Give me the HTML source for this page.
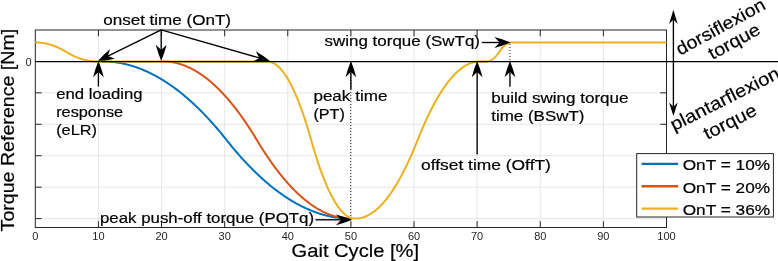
<!DOCTYPE html>
<html><head><meta charset="utf-8"><title>Torque Reference</title>
<style>
html,body{margin:0;padding:0;background:#fff;}
body{width:778px;height:261px;overflow:hidden;}
svg{display:block;font-family:"Liberation Sans",sans-serif;will-change:transform;}
</style></head><body>
<svg width="778" height="261" viewBox="0 0 778 261">
<rect width="778" height="261" fill="#fff"/>
<g stroke="#e3e3e3" stroke-width="0.9" fill="none"><line x1="98.42" y1="30.00" x2="98.42" y2="227.50"/><line x1="161.54" y1="30.00" x2="161.54" y2="227.50"/><line x1="224.66" y1="30.00" x2="224.66" y2="227.50"/><line x1="287.78" y1="30.00" x2="287.78" y2="227.50"/><line x1="350.90" y1="30.00" x2="350.90" y2="227.50"/><line x1="414.02" y1="30.00" x2="414.02" y2="227.50"/><line x1="477.14" y1="30.00" x2="477.14" y2="227.50"/><line x1="540.26" y1="30.00" x2="540.26" y2="227.50"/><line x1="603.38" y1="30.00" x2="603.38" y2="227.50"/><line x1="35.30" y1="218.60" x2="666.50" y2="218.60"/><line x1="35.30" y1="187.16" x2="666.50" y2="187.16"/><line x1="35.30" y1="155.72" x2="666.50" y2="155.72"/><line x1="35.30" y1="124.28" x2="666.50" y2="124.28"/><line x1="35.30" y1="92.84" x2="666.50" y2="92.84"/><line x1="35.30" y1="61.40" x2="666.50" y2="61.40"/></g>
<g stroke="#262626" stroke-width="1" fill="none">
<rect x="35.30" y="30.00" width="631.20" height="197.50"/>
<line x1="98.42" y1="227.50" x2="98.42" y2="221.20"/><line x1="98.42" y1="30.00" x2="98.42" y2="36.30"/><line x1="161.54" y1="227.50" x2="161.54" y2="221.20"/><line x1="161.54" y1="30.00" x2="161.54" y2="36.30"/><line x1="224.66" y1="227.50" x2="224.66" y2="221.20"/><line x1="224.66" y1="30.00" x2="224.66" y2="36.30"/><line x1="287.78" y1="227.50" x2="287.78" y2="221.20"/><line x1="287.78" y1="30.00" x2="287.78" y2="36.30"/><line x1="350.90" y1="227.50" x2="350.90" y2="221.20"/><line x1="350.90" y1="30.00" x2="350.90" y2="36.30"/><line x1="414.02" y1="227.50" x2="414.02" y2="221.20"/><line x1="414.02" y1="30.00" x2="414.02" y2="36.30"/><line x1="477.14" y1="227.50" x2="477.14" y2="221.20"/><line x1="477.14" y1="30.00" x2="477.14" y2="36.30"/><line x1="540.26" y1="227.50" x2="540.26" y2="221.20"/><line x1="540.26" y1="30.00" x2="540.26" y2="36.30"/><line x1="603.38" y1="227.50" x2="603.38" y2="221.20"/><line x1="603.38" y1="30.00" x2="603.38" y2="36.30"/><line x1="35.30" y1="218.60" x2="41.60" y2="218.60"/><line x1="35.30" y1="187.16" x2="41.60" y2="187.16"/><line x1="666.50" y1="187.16" x2="660.20" y2="187.16"/><line x1="35.30" y1="155.72" x2="41.60" y2="155.72"/><line x1="666.50" y1="155.72" x2="660.20" y2="155.72"/><line x1="35.30" y1="124.28" x2="41.60" y2="124.28"/><line x1="666.50" y1="124.28" x2="660.20" y2="124.28"/><line x1="35.30" y1="92.84" x2="41.60" y2="92.84"/><line x1="666.50" y1="92.84" x2="660.20" y2="92.84"/></g>
<g fill="none" stroke-width="2.0" stroke-linejoin="round">
<path d="M102.84,61.40 L103.47,61.41 L104.10,61.42 L104.73,61.43 L105.36,61.45 L105.99,61.47 L106.63,61.50 L107.26,61.53 L107.89,61.56 L108.52,61.60 L109.15,61.65 L109.78,61.69 L110.41,61.74 L111.04,61.80 L111.68,61.86 L112.31,61.92 L112.94,61.99 L113.57,62.06 L114.20,62.13 L114.83,62.21 L115.46,62.29 L116.09,62.38 L116.72,62.47 L117.36,62.57 L117.99,62.67 L118.62,62.77 L119.25,62.88 L119.88,62.99 L120.51,63.10 L121.14,63.22 L121.77,63.35 L122.41,63.47 L123.04,63.61 L123.67,63.74 L124.30,63.88 L124.93,64.02 L125.56,64.17 L126.19,64.32 L126.82,64.48 L127.46,64.64 L128.09,64.80 L128.72,64.97 L129.35,65.14 L129.98,65.32 L130.61,65.50 L131.24,65.69 L131.87,65.87 L132.50,66.07 L133.14,66.26 L133.77,66.46 L134.40,66.67 L135.03,66.88 L135.66,67.09 L136.29,67.31 L136.92,67.53 L137.55,67.75 L138.19,67.98 L138.82,68.21 L139.45,68.45 L140.08,68.69 L140.71,68.94 L141.34,69.19 L141.97,69.44 L142.60,69.70 L143.24,69.96 L143.87,70.22 L144.50,70.49 L145.13,70.77 L145.76,71.04 L146.39,71.32 L147.02,71.61 L147.65,71.90 L148.28,72.19 L148.92,72.49 L149.55,72.79 L150.18,73.10 L150.81,73.41 L151.44,73.72 L152.07,74.04 L152.70,74.36 L153.33,74.69 L153.97,75.02 L154.60,75.35 L155.23,75.69 L155.86,76.03 L156.49,76.38 L157.12,76.73 L157.75,77.08 L158.38,77.44 L159.02,77.80 L159.65,78.17 L160.28,78.54 L160.91,78.92 L161.54,79.30 L162.17,79.68 L162.80,80.07 L163.43,80.46 L164.06,80.85 L164.70,81.25 L165.33,81.65 L165.96,82.06 L166.59,82.47 L167.22,82.89 L167.85,83.31 L168.48,83.73 L169.11,84.16 L169.75,84.59 L170.38,85.02 L171.01,85.46 L171.64,85.91 L172.27,86.35 L172.90,86.81 L173.53,87.26 L174.16,87.72 L174.80,88.18 L175.43,88.65 L176.06,89.12 L176.69,89.60 L177.32,90.08 L177.95,90.56 L178.58,91.05 L179.21,91.54 L179.84,92.04 L180.48,92.54 L181.11,93.05 L181.74,93.55 L182.37,94.07 L183.00,94.58 L183.63,95.10 L184.26,95.63 L184.89,96.16 L185.53,96.69 L186.16,97.23 L186.79,97.77 L187.42,98.31 L188.05,98.86 L188.68,99.41 L189.31,99.97 L189.94,100.53 L190.58,101.10 L191.21,101.67 L191.84,102.24 L192.47,102.82 L193.10,103.40 L193.73,103.98 L194.36,104.57 L194.99,105.16 L195.62,105.76 L196.26,106.36 L196.89,106.97 L197.52,107.58 L198.15,108.19 L198.78,108.81 L199.41,109.43 L200.04,110.06 L200.67,110.69 L201.31,111.32 L201.94,111.96 L202.57,112.60 L203.20,113.25 L203.83,113.90 L204.46,114.55 L205.09,115.21 L205.72,115.87 L206.36,116.54 L206.99,117.21 L207.62,117.88 L208.25,118.56 L208.88,119.24 L209.51,119.93 L210.14,120.62 L210.77,121.32 L211.40,122.02 L212.04,122.72 L212.67,123.42 L213.30,124.14 L213.93,124.85 L214.56,125.57 L215.19,126.29 L215.82,127.02 L216.45,127.75 L217.09,128.49 L217.72,129.23 L218.35,129.97 L218.98,130.72 L219.61,131.47 L220.24,132.22 L220.87,132.98 L221.50,133.75 L222.14,134.51 L222.77,135.29 L223.40,136.06 L224.03,136.84 L224.66,137.62 L225.29,138.41 L225.92,139.20 L226.55,140.00 L227.18,140.80 L227.82,141.59 L228.45,142.38 L229.08,143.16 L229.71,143.94 L230.34,144.71 L230.97,145.49 L231.60,146.25 L232.23,147.02 L232.87,147.78 L233.50,148.53 L234.13,149.28 L234.76,150.03 L235.39,150.77 L236.02,151.51 L236.65,152.25 L237.28,152.98 L237.92,153.71 L238.55,154.43 L239.18,155.15 L239.81,155.86 L240.44,156.58 L241.07,157.28 L241.70,157.98 L242.33,158.68 L242.96,159.38 L243.60,160.07 L244.23,160.76 L244.86,161.44 L245.49,162.12 L246.12,162.79 L246.75,163.46 L247.38,164.13 L248.01,164.79 L248.65,165.45 L249.28,166.10 L249.91,166.75 L250.54,167.40 L251.17,168.04 L251.80,168.68 L252.43,169.31 L253.06,169.94 L253.70,170.57 L254.33,171.19 L254.96,171.81 L255.59,172.42 L256.22,173.03 L256.85,173.64 L257.48,174.24 L258.11,174.84 L258.74,175.43 L259.38,176.02 L260.01,176.60 L260.64,177.18 L261.27,177.76 L261.90,178.33 L262.53,178.90 L263.16,179.47 L263.79,180.03 L264.43,180.59 L265.06,181.14 L265.69,181.69 L266.32,182.23 L266.95,182.77 L267.58,183.31 L268.21,183.84 L268.84,184.37 L269.48,184.90 L270.11,185.42 L270.74,185.93 L271.37,186.45 L272.00,186.95 L272.63,187.46 L273.26,187.96 L273.89,188.46 L274.52,188.95 L275.16,189.44 L275.79,189.92 L276.42,190.40 L277.05,190.88 L277.68,191.35 L278.31,191.82 L278.94,192.28 L279.57,192.74 L280.21,193.19 L280.84,193.65 L281.47,194.09 L282.10,194.54 L282.73,194.98 L283.36,195.41 L283.99,195.84 L284.62,196.27 L285.26,196.69 L285.89,197.11 L286.52,197.53 L287.15,197.94 L287.78,198.35 L288.41,198.75 L289.04,199.15 L289.67,199.54 L290.30,199.93 L290.94,200.32 L291.57,200.70 L292.20,201.08 L292.83,201.46 L293.46,201.83 L294.09,202.20 L294.72,202.56 L295.35,202.92 L295.99,203.27 L296.62,203.62 L297.25,203.97 L297.88,204.31 L298.51,204.65 L299.14,204.98 L299.77,205.31 L300.40,205.64 L301.04,205.96 L301.67,206.28 L302.30,206.59 L302.93,206.90 L303.56,207.21 L304.19,207.51 L304.82,207.81 L305.45,208.10 L306.08,208.39 L306.72,208.68 L307.35,208.96 L307.98,209.23 L308.61,209.51 L309.24,209.78 L309.87,210.04 L310.50,210.30 L311.13,210.56 L311.77,210.81 L312.40,211.06 L313.03,211.31 L313.66,211.55 L314.29,211.79 L314.92,212.02 L315.55,212.25 L316.18,212.47 L316.82,212.69 L317.45,212.91 L318.08,213.12 L318.71,213.33 L319.34,213.54 L319.97,213.74 L320.60,213.93 L321.23,214.13 L321.86,214.31 L322.50,214.50 L323.13,214.68 L323.76,214.86 L324.39,215.03 L325.02,215.20 L325.65,215.36 L326.28,215.52 L326.91,215.68 L327.55,215.83 L328.18,215.98 L328.81,216.12 L329.44,216.26 L330.07,216.39 L330.70,216.53 L331.33,216.65 L331.96,216.78 L332.60,216.90 L333.23,217.01 L333.86,217.12 L334.49,217.23 L335.12,217.33 L335.75,217.43 L336.38,217.53 L337.01,217.62 L337.64,217.71 L338.28,217.79 L338.91,217.87 L339.54,217.94 L340.17,218.01 L340.80,218.08 L341.43,218.14 L342.06,218.20 L342.69,218.26 L343.33,218.31 L343.96,218.35 L344.59,218.40 L345.22,218.44 L345.85,218.47 L346.48,218.50 L347.11,218.53 L347.74,218.55 L348.38,218.57 L349.01,218.58 L349.64,218.59 L350.27,218.60 L350.90,218.60" stroke="#0072bd"/>
<path d="M162.96,61.40 L163.43,61.40 L163.91,61.41 L164.38,61.42 L164.85,61.44 L165.33,61.46 L165.80,61.48 L166.27,61.51 L166.75,61.54 L167.22,61.57 L167.69,61.61 L168.17,61.66 L168.64,61.70 L169.11,61.75 L169.59,61.81 L170.06,61.87 L170.53,61.93 L171.01,62.00 L171.48,62.07 L171.95,62.14 L172.43,62.22 L172.90,62.31 L173.38,62.39 L173.85,62.48 L174.32,62.58 L174.80,62.68 L175.27,62.78 L175.74,62.89 L176.22,63.00 L176.69,63.11 L177.16,63.23 L177.64,63.36 L178.11,63.48 L178.58,63.61 L179.06,63.75 L179.53,63.89 L180.00,64.03 L180.48,64.18 L180.95,64.33 L181.42,64.48 L181.90,64.64 L182.37,64.80 L182.84,64.97 L183.32,65.14 L183.79,65.31 L184.26,65.49 L184.74,65.68 L185.21,65.86 L185.68,66.05 L186.16,66.25 L186.63,66.45 L187.10,66.65 L187.58,66.85 L188.05,67.06 L188.52,67.28 L189.00,67.50 L189.47,67.72 L189.94,67.95 L190.42,68.18 L190.89,68.41 L191.36,68.65 L191.84,68.89 L192.31,69.14 L192.78,69.39 L193.26,69.64 L193.73,69.90 L194.20,70.16 L194.68,70.43 L195.15,70.70 L195.62,70.97 L196.10,71.25 L196.57,71.53 L197.05,71.82 L197.52,72.11 L197.99,72.40 L198.47,72.70 L198.94,73.00 L199.41,73.31 L199.89,73.62 L200.36,73.93 L200.83,74.25 L201.31,74.57 L201.78,74.90 L202.25,75.23 L202.73,75.56 L203.20,75.90 L203.67,76.24 L204.15,76.59 L204.62,76.94 L205.09,77.29 L205.57,77.65 L206.04,78.01 L206.51,78.38 L206.99,78.75 L207.46,79.12 L207.93,79.50 L208.41,79.88 L208.88,80.27 L209.35,80.66 L209.83,81.05 L210.30,81.45 L210.77,81.85 L211.25,82.25 L211.72,82.66 L212.19,83.08 L212.67,83.50 L213.14,83.92 L213.61,84.34 L214.09,84.77 L214.56,85.21 L215.03,85.64 L215.51,86.08 L215.98,86.53 L216.45,86.98 L216.93,87.43 L217.40,87.89 L217.87,88.35 L218.35,88.82 L218.82,89.29 L219.29,89.76 L219.77,90.24 L220.24,90.72 L220.72,91.20 L221.19,91.69 L221.66,92.19 L222.14,92.68 L222.61,93.18 L223.08,93.69 L223.56,94.20 L224.03,94.71 L224.50,95.23 L224.98,95.75 L225.45,96.27 L225.92,96.80 L226.40,97.34 L226.87,97.87 L227.34,98.41 L227.82,98.96 L228.29,99.51 L228.76,100.06 L229.24,100.62 L229.71,101.18 L230.18,101.74 L230.66,102.31 L231.13,102.89 L231.60,103.46 L232.08,104.04 L232.55,104.63 L233.02,105.22 L233.50,105.81 L233.97,106.41 L234.44,107.01 L234.92,107.61 L235.39,108.22 L235.86,108.83 L236.34,109.45 L236.81,110.07 L237.28,110.70 L237.76,111.32 L238.23,111.96 L238.70,112.59 L239.18,113.23 L239.65,113.88 L240.12,114.53 L240.60,115.18 L241.07,115.84 L241.54,116.50 L242.02,117.16 L242.49,117.83 L242.96,118.50 L243.44,119.18 L243.91,119.86 L244.38,120.54 L244.86,121.23 L245.33,121.92 L245.81,122.62 L246.28,123.32 L246.75,124.03 L247.23,124.73 L247.70,125.45 L248.17,126.16 L248.65,126.88 L249.12,127.61 L249.59,128.34 L250.07,129.07 L250.54,129.80 L251.01,130.54 L251.49,131.29 L251.96,132.04 L252.43,132.79 L252.91,133.54 L253.38,134.30 L253.85,135.07 L254.33,135.84 L254.80,136.61 L255.27,137.38 L255.75,138.16 L256.22,138.95 L256.69,139.74 L257.17,140.53 L257.64,141.31 L258.11,142.10 L258.59,142.87 L259.06,143.65 L259.53,144.42 L260.01,145.19 L260.48,145.95 L260.95,146.71 L261.43,147.46 L261.90,148.21 L262.37,148.96 L262.85,149.70 L263.32,150.44 L263.79,151.18 L264.27,151.91 L264.74,152.63 L265.21,153.36 L265.69,154.08 L266.16,154.79 L266.63,155.50 L267.11,156.21 L267.58,156.91 L268.06,157.61 L268.53,158.31 L269.00,159.00 L269.48,159.68 L269.95,160.37 L270.42,161.05 L270.90,161.72 L271.37,162.39 L271.84,163.06 L272.32,163.72 L272.79,164.38 L273.26,165.04 L273.74,165.69 L274.21,166.34 L274.68,166.98 L275.16,167.62 L275.63,168.25 L276.10,168.89 L276.58,169.51 L277.05,170.14 L277.52,170.76 L278.00,171.37 L278.47,171.98 L278.94,172.59 L279.42,173.19 L279.89,173.79 L280.36,174.39 L280.84,174.98 L281.31,175.57 L281.78,176.15 L282.26,176.73 L282.73,177.30 L283.20,177.88 L283.68,178.44 L284.15,179.01 L284.62,179.57 L285.10,180.12 L285.57,180.67 L286.04,181.22 L286.52,181.77 L286.99,182.31 L287.46,182.84 L287.94,183.37 L288.41,183.90 L288.88,184.42 L289.36,184.94 L289.83,185.46 L290.30,185.97 L290.78,186.48 L291.25,186.98 L291.73,187.48 L292.20,187.98 L292.67,188.47 L293.15,188.96 L293.62,189.44 L294.09,189.92 L294.57,190.40 L295.04,190.87 L295.51,191.34 L295.99,191.80 L296.46,192.26 L296.93,192.72 L297.41,193.17 L297.88,193.62 L298.35,194.06 L298.83,194.50 L299.30,194.94 L299.77,195.37 L300.25,195.80 L300.72,196.22 L301.19,196.64 L301.67,197.06 L302.14,197.47 L302.61,197.88 L303.09,198.29 L303.56,198.69 L304.03,199.08 L304.51,199.47 L304.98,199.86 L305.45,200.25 L305.93,200.63 L306.40,201.00 L306.87,201.38 L307.35,201.74 L307.82,202.11 L308.29,202.47 L308.77,202.83 L309.24,203.18 L309.71,203.53 L310.19,203.87 L310.66,204.21 L311.13,204.55 L311.61,204.88 L312.08,205.21 L312.55,205.53 L313.03,205.85 L313.50,206.17 L313.97,206.48 L314.45,206.79 L314.92,207.10 L315.40,207.40 L315.87,207.69 L316.34,207.99 L316.82,208.28 L317.29,208.56 L317.76,208.84 L318.24,209.12 L318.71,209.39 L319.18,209.66 L319.66,209.93 L320.13,210.19 L320.60,210.44 L321.08,210.70 L321.55,210.94 L322.02,211.19 L322.50,211.43 L322.97,211.67 L323.44,211.90 L323.92,212.13 L324.39,212.35 L324.86,212.58 L325.34,212.79 L325.81,213.01 L326.28,213.22 L326.76,213.42 L327.23,213.62 L327.70,213.82 L328.18,214.01 L328.65,214.20 L329.12,214.39 L329.60,214.57 L330.07,214.74 L330.54,214.92 L331.02,215.09 L331.49,215.25 L331.96,215.41 L332.44,215.57 L332.91,215.72 L333.38,215.87 L333.86,216.02 L334.33,216.16 L334.80,216.30 L335.28,216.43 L335.75,216.56 L336.22,216.69 L336.70,216.81 L337.17,216.93 L337.64,217.04 L338.12,217.15 L338.59,217.25 L339.06,217.36 L339.54,217.45 L340.01,217.55 L340.49,217.64 L340.96,217.72 L341.43,217.80 L341.91,217.88 L342.38,217.95 L342.85,218.02 L343.33,218.09 L343.80,218.15 L344.27,218.21 L344.75,218.26 L345.22,218.31 L345.69,218.36 L346.17,218.40 L346.64,218.44 L347.11,218.47 L347.59,218.50 L348.06,218.53 L348.53,218.55 L349.01,218.57 L349.48,218.58 L349.95,218.59 L350.43,218.60 L350.90,218.60" stroke="#d95319"/>
<path d="M35.30,42.44 L35.93,42.45 L36.56,42.46 L37.19,42.48 L37.82,42.50 L38.46,42.54 L39.09,42.58 L39.72,42.64 L40.35,42.69 L40.98,42.76 L41.61,42.84 L42.24,42.92 L42.87,43.01 L43.51,43.11 L44.14,43.22 L44.77,43.33 L45.40,43.45 L46.03,43.58 L46.66,43.72 L47.29,43.87 L47.92,44.02 L48.56,44.18 L49.19,44.35 L49.82,44.53 L50.45,44.72 L51.08,44.91 L51.71,45.11 L52.34,45.32 L52.97,45.54 L53.60,45.76 L54.24,45.99 L54.87,46.24 L55.50,46.48 L56.13,46.74 L56.76,47.01 L57.39,47.28 L58.02,47.56 L58.65,47.85 L59.29,48.14 L59.92,48.45 L60.55,48.76 L61.18,49.08 L61.81,49.41 L62.44,49.74 L63.07,50.09 L63.70,50.44 L64.34,50.80 L64.97,51.16 L65.60,51.54 L66.23,51.92 L66.86,52.30 L67.49,52.68 L68.12,53.05 L68.75,53.41 L69.38,53.76 L70.02,54.10 L70.65,54.44 L71.28,54.76 L71.91,55.08 L72.54,55.40 L73.17,55.70 L73.80,56.00 L74.43,56.28 L75.07,56.56 L75.70,56.84 L76.33,57.10 L76.96,57.36 L77.59,57.61 L78.22,57.85 L78.85,58.08 L79.48,58.30 L80.12,58.52 L80.75,58.73 L81.38,58.93 L82.01,59.13 L82.64,59.31 L83.27,59.49 L83.90,59.66 L84.53,59.82 L85.16,59.97 L85.80,60.12 L86.43,60.26 L87.06,60.39 L87.69,60.51 L88.32,60.63 L88.95,60.73 L89.58,60.83 L90.21,60.92 L90.85,61.01 L91.48,61.08 L92.11,61.15 L92.74,61.21 L93.37,61.26 L94.00,61.30 L94.63,61.34 L95.26,61.36 L95.90,61.38 L96.53,61.40 L97.16,61.40 L97.79,61.40 L98.42,61.40 L99.05,61.40 L99.68,61.40 L100.31,61.40 L100.94,61.40 L101.58,61.40 L102.21,61.40 L102.84,61.40 L103.47,61.40 L104.10,61.40 L104.73,61.40 L105.36,61.40 L105.99,61.40 L106.63,61.40 L107.26,61.40 L107.89,61.40 L108.52,61.40 L109.15,61.40 L109.78,61.40 L110.41,61.40 L111.04,61.40 L111.68,61.40 L112.31,61.40 L112.94,61.40 L113.57,61.40 L114.20,61.40 L114.83,61.40 L115.46,61.40 L116.09,61.40 L116.72,61.40 L117.36,61.40 L117.99,61.40 L118.62,61.40 L119.25,61.40 L119.88,61.40 L120.51,61.40 L121.14,61.40 L121.77,61.40 L122.41,61.40 L123.04,61.40 L123.67,61.40 L124.30,61.40 L124.93,61.40 L125.56,61.40 L126.19,61.40 L126.82,61.40 L127.46,61.40 L128.09,61.40 L128.72,61.40 L129.35,61.40 L129.98,61.40 L130.61,61.40 L131.24,61.40 L131.87,61.40 L132.50,61.40 L133.14,61.40 L133.77,61.40 L134.40,61.40 L135.03,61.40 L135.66,61.40 L136.29,61.40 L136.92,61.40 L137.55,61.40 L138.19,61.40 L138.82,61.40 L139.45,61.40 L140.08,61.40 L140.71,61.40 L141.34,61.40 L141.97,61.40 L142.60,61.40 L143.24,61.40 L143.87,61.40 L144.50,61.40 L145.13,61.40 L145.76,61.40 L146.39,61.40 L147.02,61.40 L147.65,61.40 L148.28,61.40 L148.92,61.40 L149.55,61.40 L150.18,61.40 L150.81,61.40 L151.44,61.40 L152.07,61.40 L152.70,61.40 L153.33,61.40 L153.97,61.40 L154.60,61.40 L155.23,61.40 L155.86,61.40 L156.49,61.40 L157.12,61.40 L157.75,61.40 L158.38,61.40 L159.02,61.40 L159.65,61.40 L160.28,61.40 L160.91,61.40 L161.54,61.40 L162.17,61.40 L162.80,61.40 L163.43,61.40 L164.06,61.40 L164.70,61.40 L165.33,61.40 L165.96,61.40 L166.59,61.40 L167.22,61.40 L167.85,61.40 L168.48,61.40 L169.11,61.40 L169.75,61.40 L170.38,61.40 L171.01,61.40 L171.64,61.40 L172.27,61.40 L172.90,61.40 L173.53,61.40 L174.16,61.40 L174.80,61.40 L175.43,61.40 L176.06,61.40 L176.69,61.40 L177.32,61.40 L177.95,61.40 L178.58,61.40 L179.21,61.40 L179.84,61.40 L180.48,61.40 L181.11,61.40 L181.74,61.40 L182.37,61.40 L183.00,61.40 L183.63,61.40 L184.26,61.40 L184.89,61.40 L185.53,61.40 L186.16,61.40 L186.79,61.40 L187.42,61.40 L188.05,61.40 L188.68,61.40 L189.31,61.40 L189.94,61.40 L190.58,61.40 L191.21,61.40 L191.84,61.40 L192.47,61.40 L193.10,61.40 L193.73,61.40 L194.36,61.40 L194.99,61.40 L195.62,61.40 L196.26,61.40 L196.89,61.40 L197.52,61.40 L198.15,61.40 L198.78,61.40 L199.41,61.40 L200.04,61.40 L200.67,61.40 L201.31,61.40 L201.94,61.40 L202.57,61.40 L203.20,61.40 L203.83,61.40 L204.46,61.40 L205.09,61.40 L205.72,61.40 L206.36,61.40 L206.99,61.40 L207.62,61.40 L208.25,61.40 L208.88,61.40 L209.51,61.40 L210.14,61.40 L210.77,61.40 L211.40,61.40 L212.04,61.40 L212.67,61.40 L213.30,61.40 L213.93,61.40 L214.56,61.40 L215.19,61.40 L215.82,61.40 L216.45,61.40 L217.09,61.40 L217.72,61.40 L218.35,61.40 L218.98,61.40 L219.61,61.40 L220.24,61.40 L220.87,61.40 L221.50,61.40 L222.14,61.40 L222.77,61.40 L223.40,61.40 L224.03,61.40 L224.66,61.40 L225.29,61.40 L225.92,61.40 L226.55,61.40 L227.18,61.40 L227.82,61.40 L228.45,61.40 L229.08,61.40 L229.71,61.40 L230.34,61.40 L230.97,61.40 L231.60,61.40 L232.23,61.40 L232.87,61.40 L233.50,61.40 L234.13,61.40 L234.76,61.40 L235.39,61.40 L236.02,61.40 L236.65,61.40 L237.28,61.40 L237.92,61.40 L238.55,61.40 L239.18,61.40 L239.81,61.40 L240.44,61.40 L241.07,61.40 L241.70,61.40 L242.33,61.40 L242.96,61.40 L243.60,61.40 L244.23,61.40 L244.86,61.40 L245.49,61.40 L246.12,61.40 L246.75,61.40 L247.38,61.40 L248.01,61.40 L248.65,61.40 L249.28,61.40 L249.91,61.40 L250.54,61.40 L251.17,61.40 L251.80,61.40 L252.43,61.40 L253.06,61.40 L253.70,61.40 L254.33,61.40 L254.96,61.40 L255.59,61.40 L256.22,61.40 L256.85,61.40 L257.48,61.40 L258.11,61.40 L258.74,61.40 L259.38,61.40 L260.01,61.40 L260.64,61.40 L261.27,61.40 L261.90,61.40 L262.53,61.40 L263.16,61.40 L263.79,61.40 L264.43,61.40 L265.06,61.40 L265.69,61.40 L266.32,61.40 L266.95,61.40 L267.58,61.42 L268.21,61.46 L268.84,61.54 L269.48,61.66 L270.11,61.80 L270.74,61.98 L271.37,62.19 L272.00,62.43 L272.63,62.70 L273.26,63.00 L273.89,63.34 L274.52,63.71 L275.16,64.11 L275.79,64.54 L276.42,65.01 L277.05,65.51 L277.68,66.04 L278.31,66.60 L278.94,67.19 L279.57,67.82 L280.21,68.47 L280.84,69.16 L281.47,69.89 L282.10,70.64 L282.73,71.43 L283.36,72.24 L283.99,73.09 L284.62,73.98 L285.26,74.89 L285.89,75.84 L286.52,76.82 L287.15,77.83 L287.78,78.87 L288.41,79.94 L289.04,81.05 L289.67,82.19 L290.30,83.36 L290.94,84.56 L291.57,85.80 L292.20,87.07 L292.83,88.36 L293.46,89.70 L294.09,91.06 L294.72,92.46 L295.35,93.88 L295.99,95.34 L296.62,96.83 L297.25,98.36 L297.88,99.91 L298.51,101.50 L299.14,103.12 L299.77,104.77 L300.40,106.46 L301.04,108.18 L301.67,109.92 L302.30,111.70 L302.93,113.52 L303.56,115.36 L304.19,117.24 L304.82,119.15 L305.45,121.09 L306.08,123.06 L306.72,125.07 L307.35,127.10 L307.98,129.17 L308.61,131.27 L309.24,133.41 L309.87,135.57 L310.50,137.77 L311.13,140.00 L311.77,142.23 L312.40,144.43 L313.03,146.59 L313.66,148.73 L314.29,150.83 L314.92,152.90 L315.55,154.93 L316.18,156.94 L316.82,158.91 L317.45,160.85 L318.08,162.76 L318.71,164.64 L319.34,166.48 L319.97,168.30 L320.60,170.08 L321.23,171.82 L321.86,173.54 L322.50,175.23 L323.13,176.88 L323.76,178.50 L324.39,180.09 L325.02,181.64 L325.65,183.17 L326.28,184.66 L326.91,186.12 L327.55,187.54 L328.18,188.94 L328.81,190.30 L329.44,191.64 L330.07,192.93 L330.70,194.20 L331.33,195.44 L331.96,196.64 L332.60,197.81 L333.23,198.95 L333.86,200.06 L334.49,201.13 L335.12,202.17 L335.75,203.18 L336.38,204.16 L337.01,205.11 L337.64,206.02 L338.28,206.91 L338.91,207.76 L339.54,208.57 L340.17,209.36 L340.80,210.11 L341.43,210.84 L342.06,211.53 L342.69,212.18 L343.33,212.81 L343.96,213.40 L344.59,213.96 L345.22,214.49 L345.85,214.99 L346.48,215.46 L347.11,215.89 L347.74,216.29 L348.38,216.66 L349.01,217.00 L349.64,217.30 L350.27,217.57 L350.90,217.81 L351.53,218.02 L352.16,218.20 L352.79,218.34 L353.42,218.46 L354.06,218.54 L354.69,218.58 L355.32,218.60 L355.95,218.59 L356.58,218.57 L357.21,218.53 L357.84,218.47 L358.47,218.40 L359.11,218.31 L359.74,218.21 L360.37,218.08 L361.00,217.95 L361.63,217.79 L362.26,217.62 L362.89,217.44 L363.52,217.24 L364.16,217.02 L364.79,216.79 L365.42,216.54 L366.05,216.27 L366.68,215.99 L367.31,215.69 L367.94,215.38 L368.57,215.05 L369.20,214.70 L369.84,214.34 L370.47,213.96 L371.10,213.56 L371.73,213.15 L372.36,212.72 L372.99,212.28 L373.62,211.82 L374.25,211.35 L374.89,210.85 L375.52,210.35 L376.15,209.82 L376.78,209.28 L377.41,208.73 L378.04,208.15 L378.67,207.57 L379.30,206.96 L379.94,206.34 L380.57,205.70 L381.20,205.05 L381.83,204.38 L382.46,203.70 L383.09,203.00 L383.72,202.28 L384.35,201.54 L384.98,200.79 L385.62,200.03 L386.25,199.25 L386.88,198.45 L387.51,197.64 L388.14,196.81 L388.77,195.96 L389.40,195.10 L390.03,194.22 L390.67,193.32 L391.30,192.41 L391.93,191.49 L392.56,190.54 L393.19,189.58 L393.82,188.61 L394.45,187.62 L395.08,186.61 L395.72,185.59 L396.35,184.55 L396.98,183.49 L397.61,182.42 L398.24,181.33 L398.87,180.23 L399.50,179.10 L400.13,177.97 L400.76,176.82 L401.40,175.65 L402.03,174.46 L402.66,173.26 L403.29,172.04 L403.92,170.81 L404.55,169.56 L405.18,168.30 L405.81,167.01 L406.45,165.72 L407.08,164.40 L407.71,163.07 L408.34,161.73 L408.97,160.36 L409.60,158.99 L410.23,157.59 L410.86,156.18 L411.50,154.75 L412.13,153.31 L412.76,151.85 L413.39,150.38 L414.02,148.89 L414.65,147.38 L415.28,145.86 L415.91,144.32 L416.54,142.76 L417.18,141.19 L417.81,139.60 L418.44,138.02 L419.07,136.46 L419.70,134.91 L420.33,133.38 L420.96,131.86 L421.59,130.37 L422.23,128.88 L422.86,127.42 L423.49,125.96 L424.12,124.53 L424.75,123.11 L425.38,121.71 L426.01,120.32 L426.64,118.95 L427.28,117.60 L427.91,116.26 L428.54,114.94 L429.17,113.63 L429.80,112.34 L430.43,111.07 L431.06,109.81 L431.69,108.57 L432.32,107.35 L432.96,106.14 L433.59,104.94 L434.22,103.77 L434.85,102.61 L435.48,101.46 L436.11,100.33 L436.74,99.22 L437.37,98.12 L438.01,97.04 L438.64,95.98 L439.27,94.93 L439.90,93.90 L440.53,92.89 L441.16,91.89 L441.79,90.90 L442.42,89.94 L443.06,88.98 L443.69,88.05 L444.32,87.13 L444.95,86.23 L445.58,85.34 L446.21,84.47 L446.84,83.62 L447.47,82.78 L448.10,81.96 L448.74,81.15 L449.37,80.36 L450.00,79.59 L450.63,78.83 L451.26,78.09 L451.89,77.36 L452.52,76.65 L453.15,75.96 L453.79,75.28 L454.42,74.62 L455.05,73.98 L455.68,73.35 L456.31,72.73 L456.94,72.14 L457.57,71.56 L458.20,70.99 L458.84,70.45 L459.47,69.91 L460.10,69.40 L460.73,68.90 L461.36,68.41 L461.99,67.95 L462.62,67.50 L463.25,67.06 L463.88,66.64 L464.52,66.24 L465.15,65.85 L465.78,65.48 L466.41,65.13 L467.04,64.79 L467.67,64.46 L468.30,64.16 L468.93,63.87 L469.57,63.59 L470.20,63.34 L470.83,63.09 L471.46,62.87 L472.09,62.66 L472.72,62.47 L473.35,62.29 L473.98,62.13 L474.62,61.98 L475.25,61.85 L475.88,61.74 L476.51,61.64 L477.14,61.56 L477.77,61.50 L478.40,61.45 L479.03,61.42 L479.66,61.40 L480.30,61.40 L480.93,61.40 L481.56,61.40 L482.19,61.40 L482.82,61.40 L483.45,61.40 L484.08,61.40 L484.71,61.40 L485.35,61.40 L485.98,61.40 L486.61,61.40 L487.24,61.38 L487.87,61.31 L488.50,61.19 L489.13,61.02 L489.76,60.81 L490.40,60.55 L491.03,60.24 L491.66,59.88 L492.29,59.48 L492.92,59.03 L493.55,58.53 L494.18,57.99 L494.81,57.40 L495.44,56.76 L496.08,56.07 L496.71,55.33 L497.34,54.55 L497.97,53.72 L498.60,52.85 L499.23,51.92 L499.86,51.00 L500.49,50.12 L501.13,49.29 L501.76,48.51 L502.39,47.77 L503.02,47.09 L503.65,46.45 L504.28,45.85 L504.91,45.31 L505.54,44.81 L506.18,44.36 L506.81,43.96 L507.44,43.60 L508.07,43.29 L508.70,43.03 L509.33,42.82 L509.96,42.65 L510.59,42.54 L511.22,42.47 L511.86,42.44 L512.49,42.44 L513.12,42.44 L513.75,42.44 L514.38,42.44 L515.01,42.44 L515.64,42.44 L516.27,42.44 L516.91,42.44 L517.54,42.44 L518.17,42.44 L518.80,42.44 L519.43,42.44 L520.06,42.44 L520.69,42.44 L521.32,42.44 L521.96,42.44 L522.59,42.44 L523.22,42.44 L523.85,42.44 L524.48,42.44 L525.11,42.44 L525.74,42.44 L526.37,42.44 L527.00,42.44 L527.64,42.44 L528.27,42.44 L528.90,42.44 L529.53,42.44 L530.16,42.44 L530.79,42.44 L531.42,42.44 L532.05,42.44 L532.69,42.44 L533.32,42.44 L533.95,42.44 L534.58,42.44 L535.21,42.44 L535.84,42.44 L536.47,42.44 L537.10,42.44 L537.74,42.44 L538.37,42.44 L539.00,42.44 L539.63,42.44 L540.26,42.44 L540.89,42.44 L541.52,42.44 L542.15,42.44 L542.78,42.44 L543.42,42.44 L544.05,42.44 L544.68,42.44 L545.31,42.44 L545.94,42.44 L546.57,42.44 L547.20,42.44 L547.83,42.44 L548.47,42.44 L549.10,42.44 L549.73,42.44 L550.36,42.44 L550.99,42.44 L551.62,42.44 L552.25,42.44 L552.88,42.44 L553.52,42.44 L554.15,42.44 L554.78,42.44 L555.41,42.44 L556.04,42.44 L556.67,42.44 L557.30,42.44 L557.93,42.44 L558.56,42.44 L559.20,42.44 L559.83,42.44 L560.46,42.44 L561.09,42.44 L561.72,42.44 L562.35,42.44 L562.98,42.44 L563.61,42.44 L564.25,42.44 L564.88,42.44 L565.51,42.44 L566.14,42.44 L566.77,42.44 L567.40,42.44 L568.03,42.44 L568.66,42.44 L569.30,42.44 L569.93,42.44 L570.56,42.44 L571.19,42.44 L571.82,42.44 L572.45,42.44 L573.08,42.44 L573.71,42.44 L574.34,42.44 L574.98,42.44 L575.61,42.44 L576.24,42.44 L576.87,42.44 L577.50,42.44 L578.13,42.44 L578.76,42.44 L579.39,42.44 L580.03,42.44 L580.66,42.44 L581.29,42.44 L581.92,42.44 L582.55,42.44 L583.18,42.44 L583.81,42.44 L584.44,42.44 L585.08,42.44 L585.71,42.44 L586.34,42.44 L586.97,42.44 L587.60,42.44 L588.23,42.44 L588.86,42.44 L589.49,42.44 L590.12,42.44 L590.76,42.44 L591.39,42.44 L592.02,42.44 L592.65,42.44 L593.28,42.44 L593.91,42.44 L594.54,42.44 L595.17,42.44 L595.81,42.44 L596.44,42.44 L597.07,42.44 L597.70,42.44 L598.33,42.44 L598.96,42.44 L599.59,42.44 L600.22,42.44 L600.86,42.44 L601.49,42.44 L602.12,42.44 L602.75,42.44 L603.38,42.44 L604.01,42.44 L604.64,42.44 L605.27,42.44 L605.90,42.44 L606.54,42.44 L607.17,42.44 L607.80,42.44 L608.43,42.44 L609.06,42.44 L609.69,42.44 L610.32,42.44 L610.95,42.44 L611.59,42.44 L612.22,42.44 L612.85,42.44 L613.48,42.44 L614.11,42.44 L614.74,42.44 L615.37,42.44 L616.00,42.44 L616.64,42.44 L617.27,42.44 L617.90,42.44 L618.53,42.44 L619.16,42.44 L619.79,42.44 L620.42,42.44 L621.05,42.44 L621.68,42.44 L622.32,42.44 L622.95,42.44 L623.58,42.44 L624.21,42.44 L624.84,42.44 L625.47,42.44 L626.10,42.44 L626.73,42.44 L627.37,42.44 L628.00,42.44 L628.63,42.44 L629.26,42.44 L629.89,42.44 L630.52,42.44 L631.15,42.44 L631.78,42.44 L632.42,42.44 L633.05,42.44 L633.68,42.44 L634.31,42.44 L634.94,42.44 L635.57,42.44 L636.20,42.44 L636.83,42.44 L637.46,42.44 L638.10,42.44 L638.73,42.44 L639.36,42.44 L639.99,42.44 L640.62,42.44 L641.25,42.44 L641.88,42.44 L642.51,42.44 L643.15,42.44 L643.78,42.44 L644.41,42.44 L645.04,42.44 L645.67,42.44 L646.30,42.44 L646.93,42.44 L647.56,42.44 L648.20,42.44 L648.83,42.44 L649.46,42.44 L650.09,42.44 L650.72,42.44 L651.35,42.44 L651.98,42.44 L652.61,42.44 L653.24,42.44 L653.88,42.44 L654.51,42.44 L655.14,42.44 L655.77,42.44 L656.40,42.44 L657.03,42.44 L657.66,42.44 L658.29,42.44 L658.93,42.44 L659.56,42.44 L660.19,42.44 L660.82,42.44 L661.45,42.44 L662.08,42.44 L662.71,42.44 L663.34,42.44 L663.98,42.44 L664.61,42.44 L665.24,42.44 L665.87,42.44 L666.50,42.44" stroke="#edb120"/>
</g>
<line x1="35.30" y1="61.55" x2="778" y2="61.55" stroke="#000" stroke-width="1.3"/>
<line x1="350.75" y1="62.0" x2="350.75" y2="218" stroke="#333" stroke-width="1.1" stroke-dasharray="1,2"/>
<line x1="509.96" y1="44.0" x2="509.96" y2="61" stroke="#333" stroke-width="1.1" stroke-dasharray="1,2"/>
<line x1="161.20" y1="29.80" x2="107.86" y2="56.09" stroke="#000" stroke-width="1.35"/><path d="M97.90,61.00 Q103.73,54.39 110.13,48.95 L107.86,56.09 L114.91,58.64 Q106.69,60.40 97.90,61.00Z" fill="#000"/><line x1="161.20" y1="29.80" x2="161.20" y2="49.90" stroke="#000" stroke-width="1.35"/><path d="M161.20,61.00 Q157.85,52.85 155.80,44.70 L161.20,49.90 L166.60,44.70 Q164.55,52.85 161.20,61.00Z" fill="#000"/><line x1="161.20" y1="29.80" x2="259.33" y2="57.94" stroke="#000" stroke-width="1.35"/><path d="M270.00,61.00 Q261.24,61.97 252.84,61.70 L259.33,57.94 L255.82,51.32 Q263.09,55.54 270.00,61.00Z" fill="#000"/><line x1="98.42" y1="86.50" x2="98.42" y2="72.10" stroke="#000" stroke-width="1.35"/><path d="M98.42,61.00 Q101.77,69.15 103.82,77.30 L98.42,72.10 L93.02,77.30 Q95.07,69.15 98.42,61.00Z" fill="#000"/><line x1="350.90" y1="89.50" x2="350.90" y2="72.10" stroke="#000" stroke-width="1.35"/><path d="M350.90,61.00 Q354.25,69.15 356.30,77.30 L350.90,72.10 L345.50,77.30 Q347.55,69.15 350.90,61.00Z" fill="#000"/><line x1="477.14" y1="154.50" x2="477.14" y2="72.10" stroke="#000" stroke-width="1.35"/><path d="M477.14,61.00 Q480.49,69.15 482.54,77.30 L477.14,72.10 L471.74,77.30 Q473.79,69.15 477.14,61.00Z" fill="#000"/><line x1="509.96" y1="86.70" x2="509.96" y2="72.10" stroke="#000" stroke-width="1.35"/><path d="M509.96,61.00 Q513.31,69.15 515.36,77.30 L509.96,72.10 L504.56,77.30 Q506.61,69.15 509.96,61.00Z" fill="#000"/><line x1="481.80" y1="42.50" x2="499.60" y2="42.50" stroke="#000" stroke-width="1.35"/><path d="M510.70,42.50 Q502.55,45.85 494.40,47.90 L499.60,42.50 L494.40,37.10 Q502.55,39.15 510.70,42.50Z" fill="#000"/><line x1="315.50" y1="219.80" x2="341.10" y2="219.80" stroke="#000" stroke-width="1.35"/><path d="M352.20,219.80 Q344.05,223.15 335.90,225.20 L341.10,219.80 L335.90,214.40 Q344.05,216.45 352.20,219.80Z" fill="#000"/><line x1="673.40" y1="62.00" x2="673.40" y2="19.50" stroke="#000" stroke-width="1.35"/><path d="M673.40,9.70 Q675.55,16.90 677.70,24.10 L673.40,19.50 L669.10,24.10 Q671.25,16.90 673.40,9.70Z" fill="#000"/><line x1="673.40" y1="61.00" x2="673.40" y2="106.80" stroke="#000" stroke-width="1.35"/><path d="M673.40,116.00 Q671.25,109.20 669.10,102.40 L673.40,106.80 L677.70,102.40 Q675.55,109.20 673.40,116.00Z" fill="#000"/>
<g fill="#262626" font-size="11"><text x="35.30" y="239.8" text-anchor="middle">0</text><text x="98.42" y="239.8" text-anchor="middle">10</text><text x="161.54" y="239.8" text-anchor="middle">20</text><text x="224.66" y="239.8" text-anchor="middle">30</text><text x="287.78" y="239.8" text-anchor="middle">40</text><text x="350.90" y="239.8" text-anchor="middle">50</text><text x="414.02" y="239.8" text-anchor="middle">60</text><text x="477.14" y="239.8" text-anchor="middle">70</text><text x="540.26" y="239.8" text-anchor="middle">80</text><text x="603.38" y="239.8" text-anchor="middle">90</text><text x="666.50" y="239.8" text-anchor="middle">100</text>
<text x="31.6" y="65.6" text-anchor="end">0</text></g>
<rect x="636.7" y="153.6" width="136.7" height="63.4" fill="#fff" stroke="#262626" stroke-width="1"/>
<g fill="#000" stroke="#000" stroke-width="0.2">
<text x="103.20" y="24.80" font-size="15.47" textLength="127.8" lengthAdjust="spacingAndGlyphs" >onset time (OnT)</text><text x="56.20" y="98.80" font-size="15.47" textLength="86.4" lengthAdjust="spacingAndGlyphs" >end loading</text><text x="56.20" y="117.00" font-size="15.47" textLength="67.0" lengthAdjust="spacingAndGlyphs" >response</text><text x="56.20" y="135.20" font-size="15.47" textLength="40.8" lengthAdjust="spacingAndGlyphs" >(eLR)</text><text x="313.40" y="100.60" font-size="15.47" textLength="74.0" lengthAdjust="spacingAndGlyphs" >peak time</text><text x="313.40" y="118.90" font-size="15.47" textLength="31.5" lengthAdjust="spacingAndGlyphs" >(PT)</text><text x="324.60" y="45.80" font-size="15.47" textLength="155.4" lengthAdjust="spacingAndGlyphs" >swing torque (SwTq)</text><text x="491.20" y="102.80" font-size="15.47" textLength="137.3" lengthAdjust="spacingAndGlyphs" >build swing torque</text><text x="491.20" y="121.00" font-size="15.47" textLength="93.3" lengthAdjust="spacingAndGlyphs" >time (BSwT)</text><text x="421.00" y="169.50" font-size="15.47" textLength="129.9" lengthAdjust="spacingAndGlyphs" >offset time (OffT)</text><text x="100.00" y="223.30" font-size="15.47" textLength="214.0" lengthAdjust="spacingAndGlyphs" >peak push-off torque (POTq)</text><text x="291.60" y="256.80" font-size="17.96" textLength="127.4" lengthAdjust="spacingAndGlyphs" >Gait Cycle [%]</text><g transform="translate(13.5,231.4) rotate(-90)"><text x="0.00" y="0.00" font-size="17.87" textLength="202.6" lengthAdjust="spacingAndGlyphs" >Torque Reference [Nm]</text></g><g transform="translate(680,55.7) rotate(-28.6)"><text x="0.00" y="0.00" font-size="17.87" textLength="98.8" lengthAdjust="spacingAndGlyphs" >dorsiflexion</text><text x="26.30" y="19.30" font-size="17.87" textLength="56.1" lengthAdjust="spacingAndGlyphs" >torque</text></g><g transform="translate(674.0,131.2) rotate(-26.7)"><text x="0.00" y="0.00" font-size="18.18" textLength="119.7" lengthAdjust="spacingAndGlyphs" >plantarflexion</text><text x="25.80" y="22.80" font-size="18.18" textLength="57.1" lengthAdjust="spacingAndGlyphs" >torque</text></g>
<line x1="641.6" y1="163.90" x2="678.1" y2="163.90" stroke="#0072bd" stroke-width="2.3"/><text x="682.70" y="170.40" font-size="15.47" textLength="87.4" lengthAdjust="spacingAndGlyphs" >OnT = 10%</text><line x1="641.6" y1="186.25" x2="678.1" y2="186.25" stroke="#d95319" stroke-width="2.3"/><text x="682.70" y="192.75" font-size="15.47" textLength="87.4" lengthAdjust="spacingAndGlyphs" >OnT = 20%</text><line x1="641.6" y1="208.60" x2="678.1" y2="208.60" stroke="#edb120" stroke-width="2.3"/><text x="682.70" y="215.10" font-size="15.47" textLength="87.4" lengthAdjust="spacingAndGlyphs" >OnT = 36%</text>
</g>
</svg>
</body></html>
